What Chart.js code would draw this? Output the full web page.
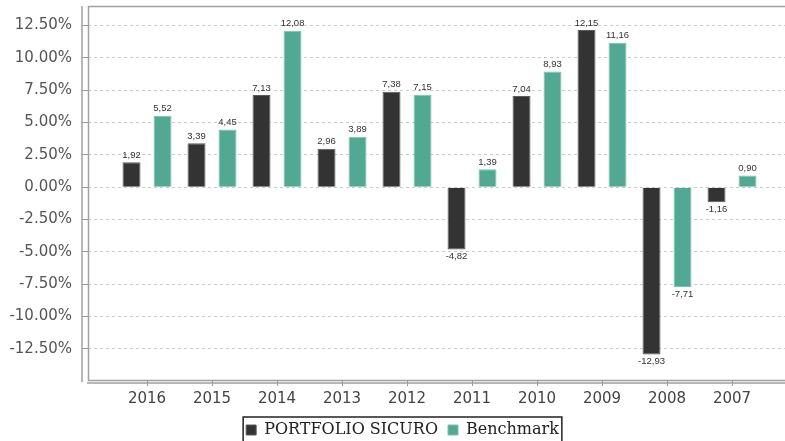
<!DOCTYPE html>
<html>
<head>
<meta charset="utf-8">
<script src="https://cdn.jsdelivr.net/npm/chart.js@4.4.0/dist/chart.umd.min.js"></script>
<style>
    body { margin: 0; background: #fff; }
    #myChart { display: block; }
</style>
</head>
<body>
<canvas id="myChart" width="785" height="441"></canvas>
<script>
// dati
const years = ['2016', '2015', '2014', '2013', '2012', '2011', '2010', '2009', '2008', '2007'];
const portfolio = [1.92, 3.39, 7.13, 2.96, 7.38, -4.82, 7.04, 12.15, -12.93, -1.16];
const benchmark = [5.52, 4.45, 12.08, 3.89, 7.15, 1.39, 8.93, 11.16, -7.71, 0.90];
const yTicks = [-12.5, -10, -7.5, -5, -2.5, 0, 2.5, 5, 7.5, 10, 12.5];

const darkColor = '#333333';
const tealColor = '#52a892';

const toPoints = (arr) => arr.map((v, i) => ({ x: i, y: v }));

// etichette sopra / sotto le barre
const valueLabels = {
    id: 'valueLabels',
    afterDatasetsDraw(chart) {
        const ctx = chart.ctx;
        ctx.save();
        ctx.font = '9.5px "Liberation Sans", Arial, sans-serif';
        ctx.fillStyle = '#333';
        ctx.textAlign = 'center';
        ctx.textBaseline = 'middle';
        chart.data.datasets.forEach((ds, di) => {
            chart.getDatasetMeta(di).data.forEach((bar, i) => {
                const v = ds.data[i].y;
                const txt = v.toFixed(2).replace('.', ',');
                const y = v >= 0 ? bar.y - 7 : bar.y + 7;
                ctx.fillText(txt, bar.x, y);
            });
        });
        ctx.restore();
    }
};

// sposta un po' la legenda a destra, come nell'originale
const legendShift = {
    id: 'legendShift',
    afterLayout(chart) {
        const lg = chart.legend;
        lg.left += 10;
        lg.right += 10;
        lg.legendHitBoxes.forEach((b) => { b.left += 10; });
    }
};

// cornice del grafico, assi spostati e bordo della legenda
const frame = {
    id: 'frame',
    afterDraw(chart) {
        const { ctx, chartArea: a } = chart;
        ctx.save();
        ctx.strokeStyle = '#a0a0a0';
        ctx.lineWidth = 1.5;
        ctx.strokeRect(a.left + 0.5, a.top + 0.5, a.right - a.left + 5, a.bottom - a.top);
        ctx.beginPath();
        ctx.moveTo(a.left - 6, a.top);
        ctx.lineTo(a.left - 6, a.bottom + 2);
        ctx.moveTo(a.left - 1, a.bottom + 3);
        ctx.lineTo(a.right + 5, a.bottom + 3);
        ctx.stroke();

        const boxes = chart.legend.legendHitBoxes;
        if (boxes && boxes.length) {
            const first = boxes[0];
            const last = boxes[boxes.length - 1];
            const x0 = first.left - 3;
            const x1 = last.left + last.width + 3;
            ctx.strokeStyle = '#222';
            ctx.lineWidth = 1.5;
            ctx.strokeRect(x0, first.top - 5, x1 - x0, 40);
        }
        ctx.restore();
    }
};

const data = {
    datasets: [{
        label: 'PORTFOLIO SICURO',
        data: toPoints(portfolio),
        backgroundColor: darkColor,
        borderColor: '#5a5a5a',
        borderWidth: 1,
        categoryPercentage: 0.954,
        barPercentage: 0.58,
    }, {
        label: 'Benchmark',
        data: toPoints(benchmark),
        backgroundColor: tealColor,
        borderColor: '#7cc0ae',
        borderWidth: 1,
        categoryPercentage: 0.954,
        barPercentage: 0.58,
    }]
};

const config = {
    type: 'bar',
    data: data,
    options: {
        responsive: false,
        animation: false,
        layout: {
            padding: { top: 6, right: 0, left: 0, bottom: -7 }
        },
        plugins: {
            tooltip: { enabled: false },
            legend: {
                position: 'bottom',
                labels: {
                    boxWidth: 10,
                    boxHeight: 10,
                    padding: 10,
                    color: '#222',
                    font: { family: '"DejaVu Serif", serif', size: 16 }
                }
            }
        },
        scales: {
            x: {
                type: 'linear',
                offset: false,
                min: -0.908,
                max: 9.815,
                afterBuildTicks: (scale) => {
                    scale.ticks = years.map((y, i) => ({ value: i }));
                },
                afterFit: (scale) => {
                    scale.height = 32;
                    scale.paddingLeft = 0;
                    scale.paddingRight = 0;
                },
                grid: {
                    offset: false,
                    drawOnChartArea: false,
                    drawTicks: true,
                    tickLength: 6,
                    tickColor: '#999'
                },
                border: { display: false },
                ticks: {
                    autoSkip: false,
                    maxRotation: 0,
                    padding: 4,
                    color: '#444',
                    font: { family: '"DejaVu Sans", sans-serif', size: 15 },
                    callback: (v) => years[v]
                }
            },
            y: {
                min: -14.9,
                max: 14,
                afterBuildTicks: (scale) => {
                    scale.ticks = yTicks.map((v) => ({ value: v }));
                },
                afterFit: (scale) => {
                    scale.width = 88;
                    scale.paddingTop = 0;
                    scale.paddingBottom = 0;
                },
                grid: {
                    color: '#cccccc',
                    tickColor: '#999',
                    tickLength: 6,
                    tickBorderDash: []
                },
                border: { display: false, dash: [3, 3] },
                ticks: {
                    padding: 10,
                    color: '#555',
                    font: { family: '"DejaVu Sans", sans-serif', size: 15 },
                    callback: (v) => v.toFixed(2) + '%'
                }
            }
        }
    },
    plugins: [valueLabels, legendShift, frame]
};

var myChart = new Chart(
    document.getElementById('myChart'),
    config
);
</script>
</body>
</html>
